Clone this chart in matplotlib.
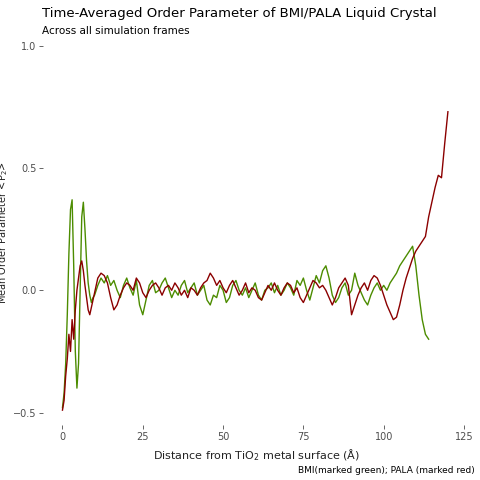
import numpy as np
import matplotlib.pyplot as plt

# distance grid (finer near the surface)
x_near = [0, 0.5, 1, 1.5, 2, 2.5, 3, 3.5, 4, 4.5, 5, 5.5, 6, 6.5, 7, 7.5, 8, 8.5, 9, 9.5, 10]

bmi_near = [-0.48, -0.42, -0.30, -0.10, 0.15, 0.33, 0.37, 0.10, -0.25, -0.40, -0.30, 0.00,
            0.30, 0.36, 0.25, 0.12, 0.03, -0.02, -0.05, -0.03, -0.02]
pala_near = [-0.49, -0.45, -0.35, -0.28, -0.18, -0.25, -0.12, -0.20, -0.08, 0.00, 0.05, 0.10,
             0.12, 0.08, 0.02, -0.03, -0.08, -0.10, -0.07, -0.04, -0.01]

# 11 .. 114 for BMI
bmi_far = [0.02, 0.05, 0.03, 0.06, 0.02, 0.04, 0.00, -0.03, 0.02, 0.05, 0.01, -0.02, 0.04, -0.06,
           -0.10, -0.04, 0.02, 0.04, -0.01, 0.00, 0.03, 0.05, 0.01, -0.03, 0.00, -0.02, 0.02,
           0.04, -0.01, 0.01, 0.03, -0.02, 0.00, 0.02, -0.04, -0.06, -0.02, -0.03, 0.02, 0.00,
           -0.05, -0.03, 0.02, 0.04, 0.00, -0.02, 0.01, -0.03, 0.00, 0.03, -0.02, -0.04, 0.00,
           0.01, 0.03, -0.01, 0.02, -0.02, 0.00, 0.03, 0.01, -0.02, 0.04, 0.02, 0.05, 0.00,
           -0.04, 0.01, 0.06, 0.03, 0.08, 0.10, 0.05, -0.02, -0.05, -0.03, 0.01, 0.03, -0.02,
           0.00, 0.07, 0.02, -0.01, -0.04, -0.06, -0.02, 0.01, 0.03, 0.00, 0.02, 0.00, 0.03,
           0.05, 0.07, 0.10, 0.12, 0.14, 0.16, 0.18, 0.10, -0.02, -0.12, -0.18, -0.20]
# 11 .. 120 for PALA
pala_far = [0.05, 0.07, 0.06, 0.03, -0.03, -0.08, -0.06, -0.02, 0.01, 0.03, 0.02, 0.00, 0.05,
            0.03, -0.01, -0.03, 0.00, 0.02, 0.03, 0.01, -0.02, 0.01, 0.02, 0.00, 0.03, 0.01,
            -0.02, 0.00, -0.03, 0.01, 0.00, -0.02, 0.01, 0.03, 0.04, 0.07, 0.05, 0.02, 0.04,
            0.01, -0.01, 0.02, 0.04, 0.01, -0.02, 0.00, 0.03, -0.01, 0.01, 0.00, -0.03, -0.04,
            -0.01, 0.02, 0.00, 0.03, 0.00, -0.02, 0.01, 0.03, 0.02, -0.01, 0.01, -0.03, -0.05,
            -0.02, 0.01, 0.04, 0.03, 0.01, 0.02, 0.00, -0.03, -0.06, -0.03, 0.01, 0.03, 0.05,
            0.02, -0.10, -0.06, -0.02, 0.01, 0.03, 0.00, 0.04, 0.06, 0.05, 0.02, -0.02, -0.06,
            -0.09, -0.12, -0.11, -0.06, 0.00, 0.05, 0.09, 0.13, 0.16, 0.18, 0.20, 0.22, 0.30,
            0.36, 0.42, 0.47, 0.46, 0.60, 0.73]

x_bmi = x_near + list(range(11, 11 + len(bmi_far)))
x_pala = x_near + list(range(11, 11 + len(pala_far)))
bmi = bmi_near + bmi_far
pala = pala_near + pala_far

fig = plt.figure(figsize=(4.8, 4.8), dpi=100)
ax = fig.add_axes([0.09, 0.115, 0.89, 0.80])
ax.plot(x_bmi, bmi, color='#4c8c00', lw=1)
ax.plot(x_pala, pala, color='#8b0000', lw=1)

ax.set_xlim(-6, 127)
ax.set_ylim(-0.55, 1.02)
ax.set_xticks([0, 25, 50, 75, 100, 125])
ax.set_yticks([-0.5, 0.0, 0.5, 1.0])
for s in ax.spines.values():
    s.set_visible(False)
ax.tick_params(labelsize=7, colors='#4d4d4d', length=3, width=0.6, pad=2)
ax.set_xlabel('Distance from TiO$_2$ metal surface (Å)', fontsize=8, color='#222222')
ax.set_ylabel('Mean Order Parameter <P$_2$>', fontsize=7, color='#222222', labelpad=2)

fig.text(0.088, 0.965, 'Time-Averaged Order Parameter of BMI/PALA Liquid Crystal', fontsize=9.5)
fig.text(0.088, 0.93, 'Across all simulation frames', fontsize=7.5)
fig.text(0.99, 0.015, 'BMI(marked green); PALA (marked red)', fontsize=6.5, ha='right')

fig.savefig('out.png')
